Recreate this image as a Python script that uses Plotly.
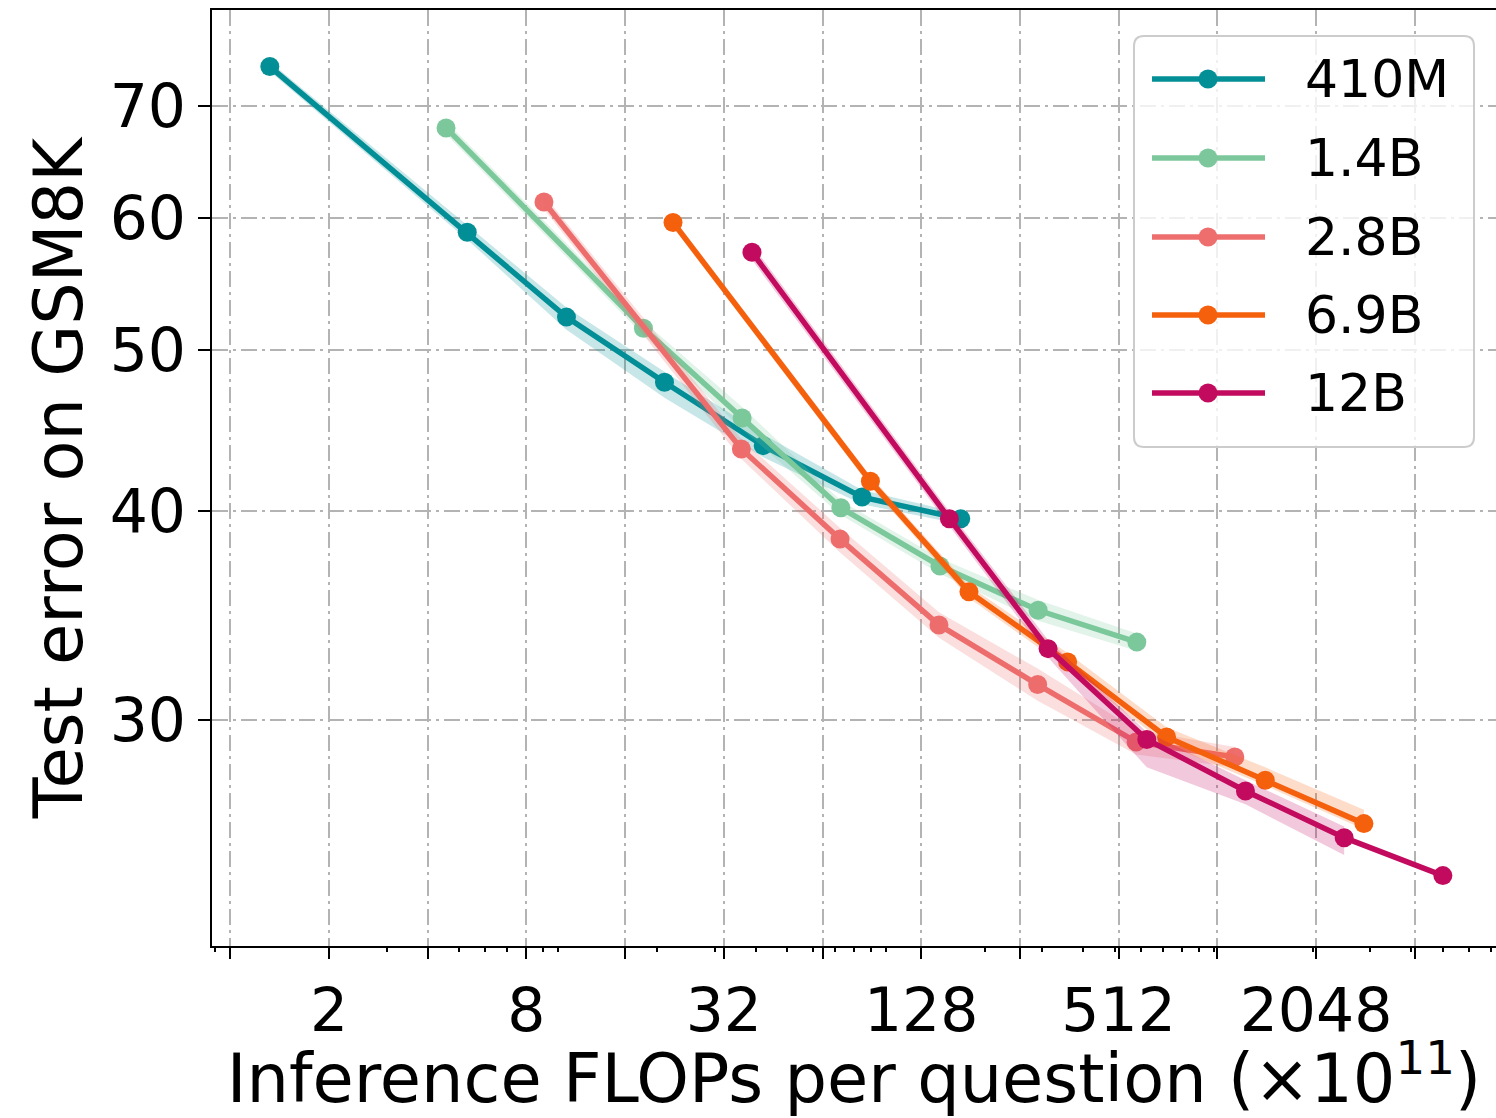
import math
import plotly.graph_objects as go

# Pythia model sizes and their colours
models = ["410M", "1.4B", "2.8B", "6.9B", "12B"]
colors = ["#028F96", "#7CC89C", "#EE6E6E", "#F4600C", "#C20B5F"]

# Inference FLOPs per question (x 1e11) for 1, 4, 8, 16, 32, 64, 128 samples
flops_410m = [1.32, 5.28, 10.6, 21.1, 42.2, 84.5, 169.0]
flops_1_4b = [4.55, 18.2, 36.4, 72.8, 146.0, 291.0, 582.0]
flops_2_8b = [9.05, 36.2, 72.4, 145.0, 290.0, 579.0, 1158.0]
flops_6_9b = [22.4, 89.6, 179.0, 358.0, 717.0, 1434.0, 2867.0]
flops_12b = [39.0, 156.0, 312.0, 624.0, 1248.0, 2496.0, 4992.0]

# Test error (%) on GSM8K
error_410m = [73.9, 58.8, 52.3, 47.8, 43.8, 40.8, 39.6]
error_1_4b = [67.9, 51.5, 45.5, 40.2, 37.1, 34.9, 33.4]
error_2_8b = [61.3, 43.6, 38.5, 34.2, 31.5, 29.1, 28.5]
error_6_9b = [59.6, 41.7, 35.8, 32.5, 29.3, 27.6, 26.0]
error_12b = [57.2, 39.6, 33.1, 29.2, 27.2, 25.5, 24.2]

# Spread across runs (lower / upper edge of the shaded band)
low_410m = [73.4, 58.2, 51.4, 46.8, 43.1, 40.4, 39.3]
high_410m = [74.4, 59.4, 53.0, 48.5, 44.5, 41.2, 39.9]
low_1_4b = [67.3, 51.0, 44.8, 39.8, 36.7, 34.4, 33.0]
high_1_4b = [68.5, 52.0, 46.2, 40.6, 37.5, 35.4, 33.8]
low_2_8b = [60.7, 43.0, 37.8, 33.6, 30.8, 28.6, 28.1]
high_2_8b = [61.9, 44.2, 39.1, 34.8, 32.2, 29.6, 28.9]
low_6_9b = [59.2, 41.4, 35.5, 32.2, 29.0, 27.4, 25.8]
high_6_9b = [60.0, 42.0, 36.1, 32.9, 29.7, 28.1, 26.5]
low_12b = [56.6, 39.2, 32.7, 28.1, 26.7, 24.9, None]
high_12b = [57.8, 40.0, 33.5, 29.5, 27.6, 25.9, None]

# Axis ticks
x_label_vals = [2, 8, 32, 128, 512, 2048]
x_unlabeled_vals = [1, 4, 16, 64, 256, 1024, 4096]
x_small_tick_vals = [n * 10 ** k for k in range(-1, 4) for n in range(1, 10)]
y_tick_vals = [30, 40, 50, 60, 70]

flops = [flops_410m, flops_1_4b, flops_2_8b, flops_6_9b, flops_12b]
errors = [error_410m, error_1_4b, error_2_8b, error_6_9b, error_12b]
lows = [low_410m, low_1_4b, low_2_8b, low_6_9b, low_12b]
highs = [high_410m, high_1_4b, high_2_8b, high_6_9b, high_12b]


def rgba(hex_color, alpha):
    h = hex_color.lstrip("#")
    r, g, b = int(h[0:2], 16), int(h[2:4], 16), int(h[4:6], 16)
    return f"rgba({r},{g},{b},{alpha})"


FONT = "DejaVu Sans"
GRID = "#B3B3B3"
DASHDOT = "16px,5px,3px,5px"
X_RANGE = [math.log10(0.8794), math.log10(7250)]

fig = go.Figure()

for name, color, xs, ys, lo, hi in zip(models, colors, flops, errors, lows, highs):
    fig.add_trace(go.Scatter(
        x=xs, y=ys, name=name, mode="lines+markers",
        line=dict(color=color, width=5.5),
        marker=dict(color=color, size=19),
        showlegend=False,
    ))
    band = [(x, l, h) for x, l, h in zip(xs, lo, hi) if l is not None]
    bx = [b[0] for b in band]
    fig.add_trace(go.Scatter(
        x=bx + bx[::-1],
        y=[b[2] for b in band] + [b[1] for b in band][::-1],
        fill="toself", fillcolor=rgba(color, 0.22),
        line=dict(width=0), mode="lines",
        hoverinfo="skip", showlegend=False,
    ))

# Invisible anchor so the small-tick overlay axis is drawn
fig.add_trace(go.Scatter(
    x=[flops_410m[0]], y=[error_410m[0]], xaxis="x2", mode="markers",
    marker=dict(opacity=0), hoverinfo="skip", showlegend=False,
))

# Plot-area geometry in pixels
W, H = 1496, 1118
L, R, T, B = 212, 0, 10, 172
pw, ph = W - L - R, H - T - B


def px(xp):
    return (xp - L) / pw


def py(yp):
    return (H - B - yp) / ph


# Legend: rounded frame, line samples with markers, labels
bx0, bx1, by0, by1 = px(1134), px(1474), py(36), py(447)
rx, ry = 10 / pw, 10 / ph
frame = (f"M {bx0 + rx},{by0} L {bx1 - rx},{by0} Q {bx1},{by0} {bx1},{by0 - ry} "
         f"L {bx1},{by1 + ry} Q {bx1},{by1} {bx1 - rx},{by1} "
         f"L {bx0 + rx},{by1} Q {bx0},{by1} {bx0},{by1 + ry} "
         f"L {bx0},{by0 - ry} Q {bx0},{by0} {bx0 + rx},{by0} Z")
shapes = [dict(type="path", path=frame, xref="paper", yref="paper",
               fillcolor="rgba(255,255,255,0.8)",
               line=dict(color="#CCCCCC", width=2), layer="above")]
annotations = []
row_px = [79, 158, 237, 315, 393]
for name, color, rp in zip(models, colors, row_px):
    yy = py(rp)
    shapes.append(dict(type="line", xref="paper", yref="paper",
                       x0=px(1152), x1=px(1265), y0=yy, y1=yy,
                       line=dict(color=color, width=5.5), layer="above"))
    shapes.append(dict(type="circle", xref="paper", yref="paper",
                       xsizemode="pixel", ysizemode="pixel",
                       xanchor=px(1208), yanchor=yy,
                       x0=-9.5, x1=9.5, y0=-9.5, y1=9.5,
                       fillcolor=color, line=dict(width=0), layer="above"))
    annotations.append(dict(text=name, xref="paper", yref="paper",
                            x=px(1303), y=yy, xanchor="left", yanchor="middle",
                            showarrow=False,
                            font=dict(family=FONT, size=52, color="black")))

fig.update_layout(
    width=W, height=H,
    margin=dict(l=L, r=R, t=T, b=B, pad=0),
    paper_bgcolor="white", plot_bgcolor="white",
    font=dict(family=FONT, color="black"),
    shapes=shapes, annotations=annotations,
    showlegend=False,
    xaxis2=dict(
        type="log", range=X_RANGE, overlaying="x", anchor="y", side="bottom",
        tickmode="array", tickvals=x_small_tick_vals, showticklabels=False,
        ticks="outside", ticklen=5, tickwidth=1.5, tickcolor="black",
        showgrid=False, zeroline=False, showline=False, automargin=False,
    ),
)

fig.update_xaxes(
    selector=dict(overlaying=None),
    type="log",
    range=X_RANGE,
    tickmode="array", tickvals=x_label_vals,
    ticktext=[str(v) for v in x_label_vals],
    ticks="outside", ticklen=11, tickwidth=2, tickcolor="black",
    tickfont=dict(family=FONT, size=60, color="black"),
    showgrid=True, gridcolor=GRID, gridwidth=2, griddash=DASHDOT,
    showline=True, linecolor="black", linewidth=2, mirror=True,
    zeroline=False, automargin=False,
    minor=dict(tickmode="array", tickvals=x_unlabeled_vals,
               ticks="outside", ticklen=11, tickwidth=2, tickcolor="black",
               showgrid=True, gridcolor=GRID, gridwidth=2, griddash=DASHDOT),
    title=dict(text="Inference FLOPs per question (×10<sup>11</sup>)",
               font=dict(family=FONT, size=67, color="black"), standoff=12),
)

fig.update_yaxes(
    type="log",
    range=[math.log10(21.96), math.log10(79.9)],
    tickmode="array", tickvals=y_tick_vals,
    ticktext=[str(v) for v in y_tick_vals],
    ticks="outside", ticklen=12, tickwidth=2, tickcolor="black",
    tickfont=dict(family=FONT, size=60, color="black"),
    showgrid=True, gridcolor=GRID, gridwidth=2, griddash=DASHDOT,
    showline=True, linecolor="black", linewidth=2, mirror=False,
    zeroline=False, automargin=False,
    title=dict(text="Test error on GSM8K",
               font=dict(family=FONT, size=67, color="black"), standoff=5),
)

fig.write_html("out.html")
